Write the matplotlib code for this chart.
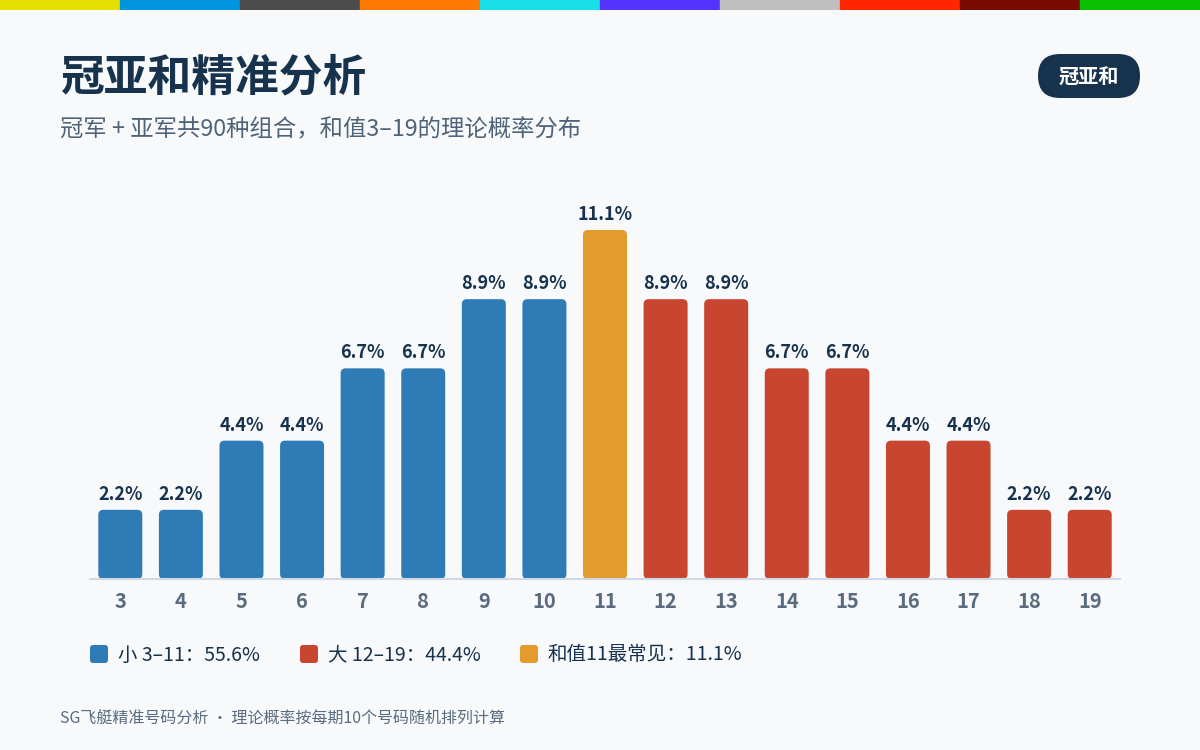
import matplotlib
matplotlib.use("Agg")
import matplotlib.pyplot as plt
from matplotlib.patches import FancyBboxPatch, Rectangle

plt.rcParams['font.family'] = ['Noto Sans CJK SC', 'DejaVu Sans']

# data
sums = [3, 4, 5, 6, 7, 8, 9, 10, 11, 12, 13, 14, 15, 16, 17, 18, 19]
percent = [2.2, 2.2, 4.4, 4.4, 6.7, 6.7, 8.9, 8.9, 11.1,
           8.9, 8.9, 6.7, 6.7, 4.4, 4.4, 2.2, 2.2]
groups = ['small'] * 8 + ['peak'] + ['big'] * 8
legend_labels = ['小 3–11：55.6%', '大 12–19：44.4%', '和值11最常见：11.1%']
stripe_colors = ['#E6E000', '#0096DE', '#4C4C4C', '#FF7A00', '#18E0E6',
                 '#5533FF', '#BFBFBF', '#FF2600', '#780A00', '#0ABF00']

colors = {'small': '#2F7BB6', 'big': '#C84530', 'peak': '#E39B2E'}
navy = '#17324D'
slate = '#5A6B80'
bg = '#F7F9FB'

W, H = 1200, 750
fig = plt.figure(figsize=(12, 7.5), dpi=100, facecolor=bg)

# top colour stripe
stripe = fig.add_axes([0, 1 - 10 / H, 1, 10 / H])
stripe.set_axis_off()
for i, c in enumerate(stripe_colors):
    stripe.add_patch(Rectangle((i, 0), 1, 1, color=c))
stripe.set_xlim(0, len(stripe_colors))
stripe.set_ylim(0, 1)

# title, subtitle, badge
fig.text(60 / W, 1 - 77 / H, '冠亚和精准分析', fontsize=31.5, fontweight='bold',
         color=navy, va='center', ha='left')
fig.text(60 / W, 1 - 130 / H, '冠军 + 亚军共90种组合，和值3–19的理论概率分布',
         fontsize=16.8, fontweight='medium', color='#4F6378', va='center', ha='left')
badge = FancyBboxPatch((1038 / W, 1 - 98 / H), 102 / W, 44 / H,
                       boxstyle='round,pad=0,rounding_size=%f' % (22 / W),
                       mutation_aspect=W / H,
                       transform=fig.transFigure, facecolor=navy,
                       edgecolor='none')
fig.patches.append(badge)
fig.text(1089 / W, 1 - 77 / H, '冠亚和', fontsize=14.5, fontweight='bold',
         color='white', va='center', ha='center')

# bar chart
ax_bottom = 579
ax_top = 200
ax = fig.add_axes([90 / W, 1 - ax_bottom / H, 1030 / W, (ax_bottom - ax_top) / H])
ax.set_facecolor(bg)
px_per_pct = 349 / 11.1
ax.set_xlim(-0.5, len(sums) - 0.5)
ax.set_ylim(0, (ax_bottom - ax_top) / px_per_pct)

px_per_x = 1030 / len(sums)
bar_w = 44 / px_per_x
aspect = px_per_x / px_per_pct
for i, (v, g) in enumerate(zip(percent, groups)):
    p = FancyBboxPatch((i - bar_w / 2, 0), bar_w, v,
                       boxstyle='round,pad=0,rounding_size=%f' % (5 / px_per_x),
                       mutation_aspect=aspect,
                       facecolor=colors[g], edgecolor='none')
    ax.add_patch(p)
    ax.text(i, v + 6 / px_per_pct, '%.1f%%' % v, ha='center', va='bottom',
            fontsize=13, fontweight='bold', color=navy)

for s in ['top', 'right', 'left']:
    ax.spines[s].set_visible(False)
ax.spines['bottom'].set_color('#CFD8E3')
ax.spines['bottom'].set_linewidth(1.5)
ax.set_yticks([])
ax.set_xticks(range(len(sums)))
ax.set_xticklabels([str(s) for s in sums], fontsize=14.5, fontweight='bold',
                   color=slate)
ax.tick_params(axis='x', length=0, pad=9)

# legend
leg_x = [90, 300, 520]
for x, key, label in zip(leg_x, ['small', 'big', 'peak'], legend_labels):
    sq = FancyBboxPatch((x / W, 1 - 663 / H), 18 / W, 18 / H,
                        boxstyle='round,pad=0,rounding_size=%f' % (3 / W),
                        mutation_aspect=W / H,
                        transform=fig.transFigure, facecolor=colors[key],
                        edgecolor='none')
    fig.patches.append(sq)
    fig.text((x + 28) / W, 1 - 655 / H, label, fontsize=14, fontweight='medium',
             color=navy, va='center', ha='left')

# footer
fig.text(60 / W, 1 - 719 / H, 'SG飞艇精准号码分析 · 理论概率按每期10个号码随机排列计算',
         fontsize=11.5, color=slate, va='center', ha='left')

fig.savefig('out.png', dpi=100, facecolor=bg)
